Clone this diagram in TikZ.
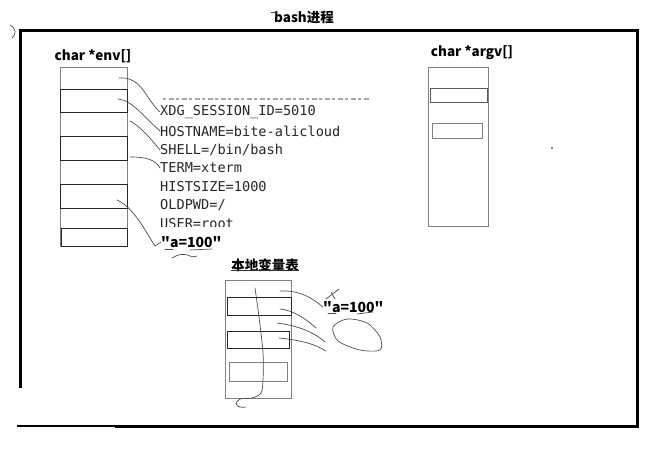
\documentclass[tikz,border=0pt]{standalone}
\usepackage{fontspec}
\setmonofont{DejaVu Sans Mono}
\newfontfamily\cjk{Noto Sans CJK SC}
\usepackage{tikz}

\begin{document}
\begin{tikzpicture}[x=1pt, y=-1pt, every node/.style={inner sep=0pt},
  title/.style={font=\cjk\bfseries\fontsize{13.5}{15}\selectfont},
  value/.style={font=\cjk\bfseries\fontsize{14}{16}\selectfont, anchor=west},
  envline/.style={font=\ttfamily\fontsize{13.6}{15}\selectfont, anchor=west, text=black!85},
  cell/.style={draw=black!50, line width=0.8pt},
  boldcell/.style={draw=black!85, line width=1pt},
  pen/.style={draw=black!70, line width=0.7pt, line cap=round}]
\useasboundingbox (0,0) rectangle (669,450);

% process frame
\draw[line width=3pt] (20,388) -- (20,30) -- (637,30) -- (637,426) -- (115,426);
\draw[line width=2.4pt] (116,426) -- (17,426);
\node[title] (bash) at (304,17) {bash进程};
\draw[pen, line width=0.5pt] (271,12) -- (275,12) -- (275,17);
\draw[pen] (10,25) .. controls (16,29) and (17,33) .. (12,38);

% env table
\node[title] (envlbl) at (93,56) {char *env[]};
\node[cell, minimum width=67, minimum height=179] (env) at (93.5,156.5) {};
\foreach \y in {89,112,136,160,184,208,228}
  \draw[cell] (60,\y) -- (127,\y);
\foreach \a/\b in {89/112,136/160,184/208}
  \draw[boldcell] (60,\a) rectangle (127,\b);
\draw[boldcell] (61,228) rectangle (127,246);

% environment strings
\draw[black!35, line width=1.2pt, dash pattern=on 3pt off 3pt on 5pt off 2pt] (163,99) -- (370,99);
\node[envline] (xdg) at (160,112) {XDG\_SESSION\_ID=5010};
\node[envline] (host) at (160,131) {HOSTNAME=bite-alicloud};
\node[envline] (shell) at (160,150) {SHELL=/bin/bash};
\node[envline] (term) at (160,168) {TERM=xterm};
\node[envline] (hist) at (160,187) {HISTSIZE=1000};
\node[envline] (oldpwd) at (160,205) {OLDPWD=/};
\begin{scope}
  \clip (150,212) rectangle (380,226.5);
  \node[envline] (user) at (160,224) {USER=root};
\end{scope}
\node[value] (aenv) at (161,242) {"a=100"};

\coordinate (e1) at (119,78);
\coordinate (e2) at (118,99);
\coordinate (e3) at (130,121);
\coordinate (e4) at (130,157);
\coordinate (e6) at (117,200);
\draw[pen] (e1) .. controls (142,76) and (146,100) .. (xdg.west);
\draw[pen] (e2) .. controls (132,100) and (145,118) .. (host.west);
\draw[pen] (e3) .. controls (140,126) and (152,140) .. (shell.west);
\draw[pen] (e4) .. controls (148,157) and (155,160) .. (term.west);
\draw[pen] (e6) .. controls (135,208) and (148,236) .. (155,246) -- (aenv.west);
\draw[pen] (165,249) -- (173,249);
\draw[pen] (190,250) -- (212,249);
\draw[pen] (172,258) .. controls (180,253) and (186,254) .. (190,256) .. controls (193,257) .. (197,256);

% argv table
\node[title] (argvlbl) at (472,53) {char *argv[]};
\node[cell, minimum width=60, minimum height=159] (argv) at (458,146.5) {};
\draw[draw=black!65, line width=1pt] (430,88) rectangle (487,102);
\draw[cell] (432,123) rectangle (482,138);
\fill (552,148) circle (0.9pt);

% local variable table
\node[title] (loclbl) at (265,265) {本地变量表};
\draw[black!80, line width=0.8pt] (loclbl.south west) ++(0,-1) -- ([yshift=1pt]loclbl.south east);
\node[cell, minimum width=66, minimum height=118] (loc) at (258,339) {};
\draw[boldcell] (227,297) rectangle (291,315);
\draw[boldcell] (227,331) rectangle (289,348);
\draw[cell] (229,362) rectangle (287,381);
\draw[pen] plot[smooth] coordinates {(255,288) (259,317) (263,353) (263,380) (261,393) (252,398) (240,399) (236,404) (240,407) (246,407)};

\node[value] (aloc) at (323,307) {"a=100"};
\coordinate (l1) at (280,291);
\coordinate (l2) at (280,309);
\coordinate (l3) at (277,323);
\coordinate (l4) at (279,338);
\coordinate (f2) at (316,328);
\coordinate (f3) at (325,342);
\coordinate (f4) at (326,351);
\draw[pen] (l1) .. controls (300,290) and (312,298) .. (aloc.west);
\draw[pen] (l2) .. controls (292,310) and (305,318) .. (f2);
\draw[pen] (l3) .. controls (300,326) and (315,333) .. (f3);
\draw[pen] (l4) .. controls (300,340) and (315,344) .. (f4);
\draw[pen] (326,299) -- (339,289);
\draw[pen] (331,292) -- (335,299);
\draw[pen] (328,313) -- (336,313);
\draw[pen] (357,314) -- (373,312);
\draw[pen] plot[smooth cycle] coordinates {(333,327) (347,319) (367,323) (380,337) (380,350) (360,350) (338,341)};
\end{tikzpicture}
\end{document}
